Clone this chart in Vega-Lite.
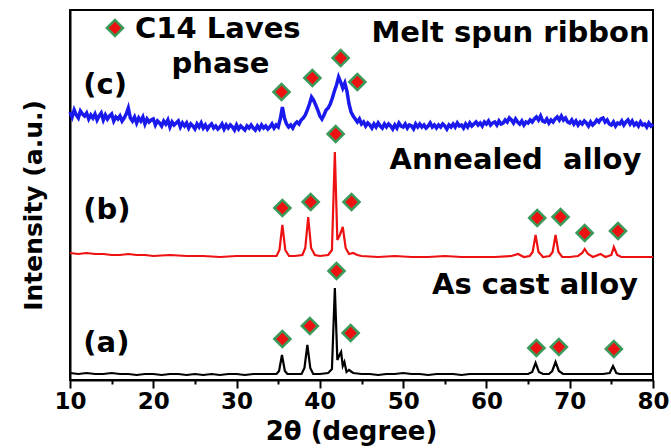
{
  "$schema": "https://vega.github.io/schema/vega-lite/v6.json",
  "width": 583,
  "height": 370,
  "autosize": {"type": "none"},
  "padding": {"left": 70, "top": 10, "right": 18, "bottom": 68},
  "background": "white",
  "config": {"view": {"stroke": "black", "strokeWidth": 2}},
  "datasets": {
    "a": [
      {"x":10,"y":7},{"x":11,"y":6},{"x":12,"y":7},{"x":13,"y":6},{"x":14,"y":6},{"x":15,"y":7},{"x":16,"y":6},{"x":17,"y":6},{"x":18,"y":5},{"x":19,"y":6},{"x":20,"y":6},{"x":21,"y":5},{"x":22,"y":6},{"x":23,"y":6},{"x":24,"y":5},{"x":25,"y":6},{"x":26,"y":5},{"x":27,"y":6},{"x":28,"y":5},{"x":29,"y":6},{"x":30,"y":6},{"x":31,"y":5},{"x":32,"y":6},{"x":33,"y":6},{"x":34,"y":6},{"x":34.8,"y":6},{"x":35.1,"y":9},{"x":35.45,"y":25},{"x":35.8,"y":9},{"x":36.1,"y":6},{"x":37,"y":6},{"x":37.8,"y":6},{"x":38.15,"y":12},{"x":38.5,"y":35},{"x":38.85,"y":12},{"x":39.2,"y":6},{"x":40,"y":6},{"x":41,"y":7},{"x":41.45,"y":11},{"x":41.8,"y":92},{"x":42.1,"y":20},{"x":42.3,"y":24},{"x":42.55,"y":28},{"x":42.75,"y":14},{"x":42.95,"y":18},{"x":43.2,"y":8},{"x":43.5,"y":10},{"x":44,"y":7},{"x":45,"y":6},{"x":46,"y":6},{"x":47,"y":5},{"x":48,"y":6},{"x":49,"y":6},{"x":50,"y":7},{"x":51,"y":6},{"x":52,"y":6},{"x":53,"y":5},{"x":54,"y":6},{"x":55,"y":6},{"x":56,"y":6},{"x":57,"y":5},{"x":58,"y":6},{"x":59,"y":6},{"x":60,"y":6},{"x":61,"y":6},{"x":62,"y":6},{"x":63,"y":6},{"x":64,"y":6},{"x":65,"y":6},{"x":65.5,"y":8},{"x":65.9,"y":17},{"x":66.3,"y":8},{"x":66.8,"y":6},{"x":67.5,"y":6},{"x":67.9,"y":9},{"x":68.3,"y":18},{"x":68.7,"y":9},{"x":69.2,"y":6},{"x":70,"y":6},{"x":71,"y":6},{"x":72,"y":6},{"x":73,"y":6},{"x":74,"y":6},{"x":74.8,"y":7},{"x":75.2,"y":14},{"x":75.6,"y":7},{"x":76,"y":6},{"x":77,"y":6},{"x":78,"y":6},{"x":79,"y":6},{"x":80,"y":6}
    ],
    "b": [
      {"x":10,"y":127},{"x":11,"y":126},{"x":12,"y":127},{"x":13,"y":126},{"x":14,"y":126},{"x":15,"y":125},{"x":16,"y":125},{"x":17,"y":126},{"x":18,"y":125},{"x":19,"y":125},{"x":20,"y":124},{"x":22,"y":125},{"x":24,"y":124},{"x":26,"y":124},{"x":28,"y":123},{"x":30,"y":124},{"x":32,"y":124},{"x":34,"y":124},{"x":34.8,"y":124},{"x":35.15,"y":130},{"x":35.5,"y":155},{"x":35.85,"y":130},{"x":36.3,"y":124},{"x":37,"y":124},{"x":37.9,"y":125},{"x":38.25,"y":132},{"x":38.6,"y":163},{"x":38.95,"y":132},{"x":39.4,"y":125},{"x":40,"y":124},{"x":41,"y":125},{"x":41.45,"y":130},{"x":41.8,"y":228},{"x":42.1,"y":140},{"x":42.4,"y":145},{"x":42.75,"y":153},{"x":43.1,"y":132},{"x":43.5,"y":126},{"x":44,"y":127},{"x":44.5,"y":125},{"x":45,"y":124},{"x":47,"y":123},{"x":49,"y":124},{"x":51,"y":123},{"x":53,"y":123},{"x":55,"y":124},{"x":57,"y":123},{"x":59,"y":123},{"x":61,"y":123},{"x":63,"y":124},{"x":63.8,"y":126},{"x":64.5,"y":123},{"x":65.2,"y":124},{"x":65.55,"y":128},{"x":65.9,"y":145},{"x":66.25,"y":128},{"x":66.8,"y":123},{"x":67.6,"y":124},{"x":67.95,"y":128},{"x":68.3,"y":145},{"x":68.65,"y":128},{"x":69.1,"y":123},{"x":70,"y":123},{"x":71,"y":124},{"x":71.5,"y":127},{"x":71.8,"y":131},{"x":72.2,"y":126},{"x":72.8,"y":123},{"x":73.7,"y":126},{"x":74.3,"y":123},{"x":75,"y":125},{"x":75.3,"y":133},{"x":75.7,"y":125},{"x":76.2,"y":123},{"x":77,"y":123},{"x":78,"y":123},{"x":79,"y":123},{"x":80,"y":123}
    ],
    "c": [
      {"x":10,"y":268},{"x":10.25,"y":263},{"x":10.5,"y":270},{"x":10.75,"y":265},
      {"x":11,"y":262},{"x":11.25,"y":269},{"x":11.5,"y":266},{"x":11.75,"y":264},
      {"x":12,"y":267},{"x":12.25,"y":261},{"x":12.5,"y":265},{"x":12.75,"y":262},
      {"x":13,"y":266},{"x":13.25,"y":260},{"x":13.5,"y":264},{"x":13.75,"y":267},
      {"x":14,"y":260},{"x":14.25,"y":265},{"x":14.5,"y":261},{"x":14.75,"y":264},
      {"x":15,"y":266},{"x":15.25,"y":259},{"x":15.5,"y":263},{"x":15.75,"y":261},
      {"x":16,"y":264},{"x":16.25,"y":259},{"x":16.5,"y":262},{"x":16.75,"y":266},
      {"x":17,"y":272},{"x":17.25,"y":262},{"x":17.5,"y":259},{"x":17.75,"y":263},
      {"x":18,"y":257},{"x":18.25,"y":262},{"x":18.5,"y":259},{"x":18.75,"y":263},
      {"x":19,"y":256},{"x":19.25,"y":261},{"x":19.5,"y":258},{"x":19.75,"y":260},
      {"x":20,"y":261},{"x":20.25,"y":255},{"x":20.5,"y":259},{"x":20.75,"y":257},
      {"x":21,"y":254},{"x":21.25,"y":259},{"x":21.5,"y":256},{"x":21.75,"y":260},
      {"x":22,"y":253},{"x":22.25,"y":258},{"x":22.5,"y":255},{"x":22.75,"y":257},
      {"x":23,"y":259},{"x":23.25,"y":253},{"x":23.5,"y":257},{"x":23.75,"y":254},
      {"x":24,"y":257},{"x":24.25,"y":252},{"x":24.5,"y":256},{"x":24.75,"y":254},
      {"x":25,"y":251},{"x":25.25,"y":256},{"x":25.5,"y":253},{"x":25.75,"y":257},
      {"x":26,"y":252},{"x":26.25,"y":255},{"x":26.5,"y":251},{"x":26.75,"y":254},
      {"x":27,"y":256},{"x":27.25,"y":252},{"x":27.5,"y":254},{"x":27.75,"y":251},
      {"x":28,"y":253},{"x":28.25,"y":256},{"x":28.5,"y":251},{"x":28.75,"y":255},
      {"x":29,"y":252},{"x":29.25,"y":255},{"x":29.5,"y":253},{"x":29.75,"y":250},
      {"x":30,"y":255},{"x":30.25,"y":251},{"x":30.5,"y":254},{"x":30.75,"y":252},
      {"x":31,"y":250},{"x":31.25,"y":254},{"x":31.5,"y":252},{"x":31.75,"y":255},
      {"x":32,"y":252},{"x":32.25,"y":250},{"x":32.5,"y":254},{"x":32.75,"y":251},
      {"x":33,"y":255},{"x":33.25,"y":252},{"x":33.5,"y":254},{"x":33.75,"y":251},
      {"x":34,"y":253},{"x":34.25,"y":256},{"x":34.5,"y":252},{"x":34.75,"y":255},
      {"x":35,"y":253},{"x":35.25,"y":261},{"x":35.5,"y":273},{"x":35.75,"y":262},
      {"x":36,"y":256},{"x":36.25,"y":253},{"x":36.5,"y":255},{"x":36.75,"y":252},
      {"x":37,"y":256},{"x":37.25,"y":258},{"x":37.5,"y":256},{"x":37.75,"y":260},
      {"x":38,"y":262},{"x":38.25,"y":265},{"x":38.5,"y":270},{"x":38.75,"y":276},
      {"x":39,"y":283},{"x":39.25,"y":280},{"x":39.5,"y":275},{"x":39.75,"y":270},
      {"x":40,"y":264},{"x":40.25,"y":261},{"x":40.5,"y":265},{"x":40.75,"y":270},
      {"x":41,"y":272},{"x":41.25,"y":276},{"x":41.5,"y":282},{"x":41.75,"y":289},
      {"x":42,"y":295},{"x":42.25,"y":303},{"x":42.5,"y":298},{"x":42.75,"y":292},
      {"x":43,"y":297},{"x":43.25,"y":289},{"x":43.5,"y":276},{"x":43.75,"y":268},
      {"x":44,"y":264},{"x":44.25,"y":261},{"x":44.5,"y":258},{"x":44.75,"y":261},
      {"x":45,"y":256},{"x":45.25,"y":258},{"x":45.5,"y":254},{"x":45.75,"y":257},
      {"x":46,"y":255},{"x":46.25,"y":252},{"x":46.5,"y":256},{"x":46.75,"y":253},
      {"x":47,"y":257},{"x":47.25,"y":254},{"x":47.5,"y":252},{"x":47.75,"y":256},
      {"x":48,"y":253},{"x":48.25,"y":256},{"x":48.5,"y":254},{"x":48.75,"y":251},
      {"x":49,"y":255},{"x":49.25,"y":252},{"x":49.5,"y":257},{"x":49.75,"y":254},
      {"x":50,"y":253},{"x":50.25,"y":256},{"x":50.5,"y":252},{"x":50.75,"y":255},
      {"x":51,"y":254},{"x":51.25,"y":251},{"x":51.5,"y":256},{"x":51.75,"y":253},
      {"x":52,"y":256},{"x":52.25,"y":253},{"x":52.5,"y":255},{"x":52.75,"y":252},
      {"x":53,"y":254},{"x":53.25,"y":257},{"x":53.5,"y":253},{"x":53.75,"y":255},
      {"x":54,"y":252},{"x":54.25,"y":255},{"x":54.5,"y":253},{"x":54.75,"y":256},
      {"x":55,"y":254},{"x":55.25,"y":251},{"x":55.5,"y":255},{"x":55.75,"y":253},
      {"x":56,"y":256},{"x":56.25,"y":253},{"x":56.5,"y":257},{"x":56.75,"y":254},
      {"x":57,"y":255},{"x":57.25,"y":252},{"x":57.5,"y":256},{"x":57.75,"y":253},
      {"x":58,"y":257},{"x":58.25,"y":254},{"x":58.5,"y":256},{"x":58.75,"y":258},
      {"x":59,"y":255},{"x":59.25,"y":257},{"x":59.5,"y":254},{"x":59.75,"y":258},
      {"x":60,"y":256},{"x":60.25,"y":259},{"x":60.5,"y":255},{"x":60.75,"y":257},
      {"x":61,"y":258},{"x":61.25,"y":255},{"x":61.5,"y":259},{"x":61.75,"y":256},
      {"x":62,"y":257},{"x":62.25,"y":260},{"x":62.5,"y":258},{"x":62.75,"y":262},
      {"x":63,"y":260},{"x":63.25,"y":257},{"x":63.5,"y":261},{"x":63.75,"y":258},
      {"x":64,"y":256},{"x":64.25,"y":259},{"x":64.5,"y":255},{"x":64.75,"y":258},
      {"x":65,"y":257},{"x":65.25,"y":260},{"x":65.5,"y":258},{"x":65.75,"y":261},
      {"x":66,"y":263},{"x":66.25,"y":260},{"x":66.5,"y":264},{"x":66.75,"y":259},
      {"x":67,"y":258},{"x":67.25,"y":261},{"x":67.5,"y":257},{"x":67.75,"y":260},
      {"x":68,"y":258},{"x":68.25,"y":261},{"x":68.5,"y":263},{"x":68.75,"y":260},
      {"x":69,"y":264},{"x":69.25,"y":260},{"x":69.5,"y":262},{"x":69.75,"y":258},
      {"x":70,"y":257},{"x":70.25,"y":260},{"x":70.5,"y":256},{"x":70.75,"y":259},
      {"x":71,"y":255},{"x":71.25,"y":258},{"x":71.5,"y":256},{"x":71.75,"y":259},
      {"x":72,"y":257},{"x":72.25,"y":254},{"x":72.5,"y":258},{"x":72.75,"y":255},
      {"x":73,"y":257},{"x":73.25,"y":260},{"x":73.5,"y":258},{"x":73.75,"y":261},
      {"x":74,"y":262},{"x":74.25,"y":258},{"x":74.5,"y":260},{"x":74.75,"y":256},
      {"x":75,"y":255},{"x":75.25,"y":258},{"x":75.5,"y":254},{"x":75.75,"y":257},
      {"x":76,"y":256},{"x":76.25,"y":259},{"x":76.5,"y":255},{"x":76.75,"y":258},
      {"x":77,"y":260},{"x":77.25,"y":256},{"x":77.5,"y":259},{"x":77.75,"y":255},
      {"x":78,"y":257},{"x":78.25,"y":254},{"x":78.5,"y":258},{"x":78.75,"y":255},
      {"x":79,"y":256},{"x":79.25,"y":253},{"x":79.5,"y":257},{"x":79.75,"y":254},
      {"x":80,"y":256}
    ],
    "m": [
      {"x":15.4,"y":352},
      {"x":35.5,"y":41},{"x":38.8,"y":54},{"x":42.0,"y":109},{"x":43.7,"y":47},{"x":66.0,"y":32},{"x":68.7,"y":33},{"x":75.3,"y":31},
      {"x":35.5,"y":172},{"x":38.9,"y":178},{"x":41.9,"y":246},{"x":43.8,"y":178},{"x":66.1,"y":162},{"x":68.9,"y":163},{"x":71.8,"y":147},{"x":75.8,"y":149},
      {"x":35.4,"y":288},{"x":39.1,"y":302},{"x":42.5,"y":322},{"x":44.5,"y":298}
    ],
    "tl": [
      {"x":17.8,"y":351,"t":"C14 Laves"},
      {"x":22.2,"y":316,"t":"phase"},
      {"x":11.6,"y":295,"t":"(c)"},
      {"x":11.6,"y":170,"t":"(b)"},
      {"x":11.6,"y":37,"t":"(a)"}
    ],
    "tr": [
      {"x":79.6,"y":347,"t":"Melt spun ribbon"},
      {"x":78.6,"y":220,"t":"Annealed\u00a0 alloy"},
      {"x":78.2,"y":95,"t":"As cast alloy"}
    ]
  },
  "encoding": {
    "x": {
      "field": "x", "type": "quantitative",
      "scale": {"domain": [10, 80], "nice": false, "zero": false},
      "axis": {
        "values": [10,15,20,25,30,35,40,45,50,55,60,65,70,75,80],
        "labelExpr": "datum.value % 10 === 0 ? datum.label : ''",
        "tickSize": {"condition": {"test": "datum.value % 10 === 0", "value": 8}, "value": 4},
        "tickWidth": 2, "tickColor": "black",
        "domainColor": "black", "domainWidth": 2,
        "grid": false, "labelFlush": false, "labelOverlap": false,
        "labelFont": "DejaVu Sans", "labelFontWeight": "bold", "labelFontSize": 23, "labelColor": "black", "labelPadding": 2,
        "title": "2θ (degree)", "titleFont": "DejaVu Sans", "titleFontWeight": "bold", "titleFontSize": 26, "titleColor": "black", "titlePadding": 5, "titleX": 281
      }
    },
    "y": {
      "field": "y", "type": "quantitative",
      "scale": {"domain": [0, 370], "nice": false, "zero": false},
      "axis": {
        "labels": false, "ticks": false, "grid": false,
        "domainColor": "black", "domainWidth": 2,
        "title": "Intensity (a.u.)", "titleFont": "DejaVu Sans", "titleFontWeight": "bold", "titleFontSize": 25, "titleColor": "black", "titlePadding": 24, "titleY": 195
      }
    }
  },
  "layer": [
    {"data": {"name": "a"}, "mark": {"type": "line", "color": "#000000", "strokeWidth": 2.2}},
    {"data": {"name": "b"}, "mark": {"type": "line", "color": "#ee1111", "strokeWidth": 2.2}},
    {"data": {"name": "c"}, "mark": {"type": "line", "color": "#1a1aee", "strokeWidth": 3.5}},
    {"data": {"name": "m"}, "mark": {"type": "point", "shape": "diamond", "filled": true, "size": 260, "fill": "#ee1111", "stroke": "#3a9a5a", "strokeWidth": 2.5, "opacity": 1}},
    {"data": {"name": "tl"}, "mark": {"type": "text", "align": "left", "baseline": "middle", "font": "DejaVu Sans", "fontWeight": "bold", "fontSize": 29, "color": "black"}, "encoding": {"text": {"field": "t"}}},
    {"data": {"name": "tr"}, "mark": {"type": "text", "align": "right", "baseline": "middle", "font": "DejaVu Sans", "fontWeight": "bold", "fontSize": 29, "color": "black"}, "encoding": {"text": {"field": "t"}}}
  ]
}
